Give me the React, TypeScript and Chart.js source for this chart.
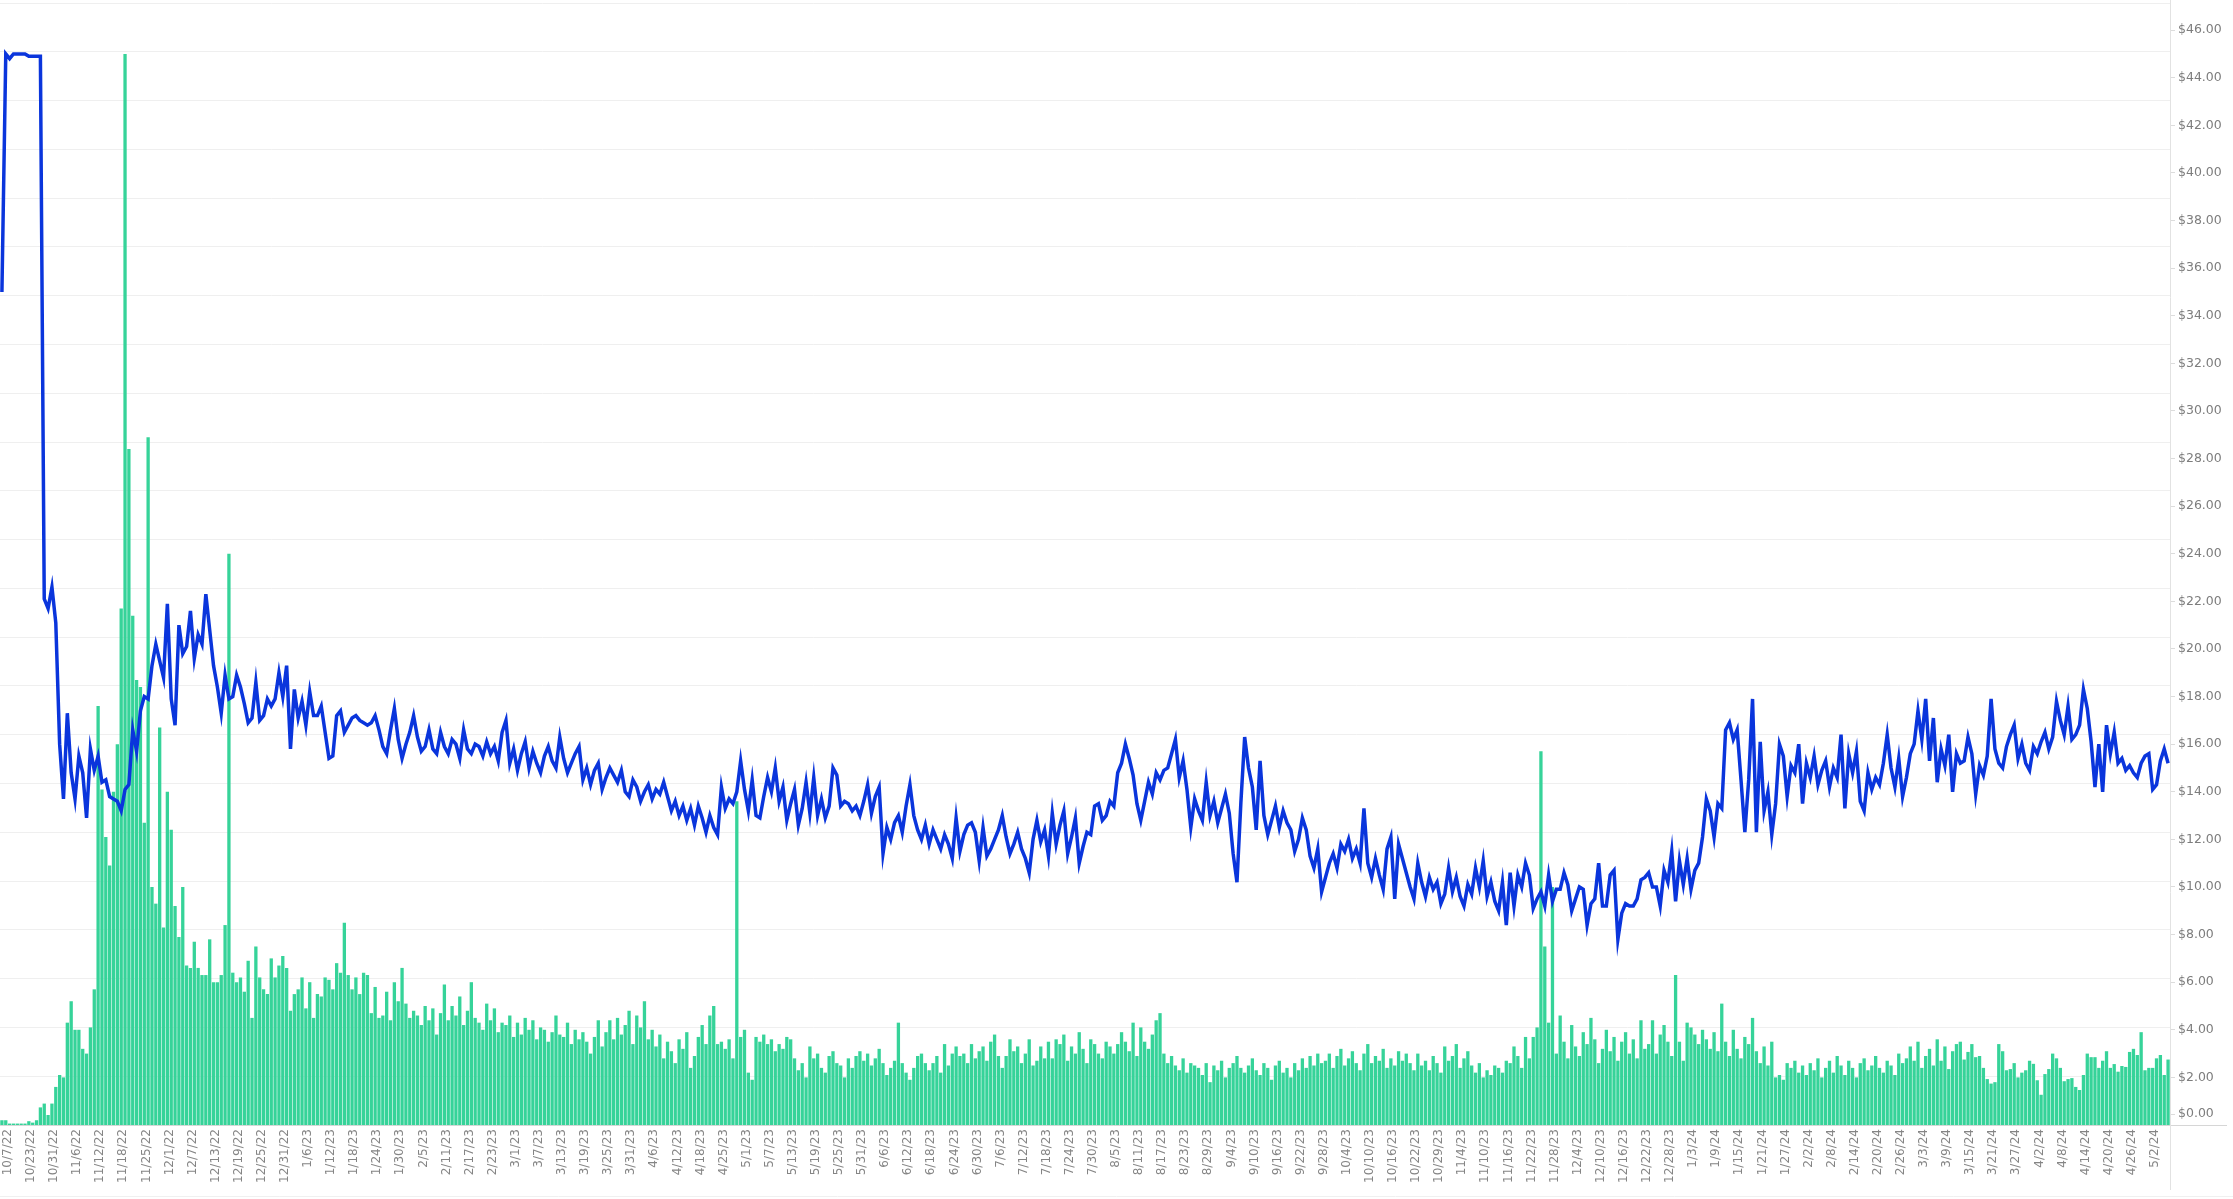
import React, { useEffect, useRef } from 'react';
import { Chart, registerables } from 'chart.js';

Chart.register(...registerables);

// ---- categories (daily trading dates; a few dates absent in the source) ----
const START_DATE = '2022-10-07';
const END_DATE = '2024-05-07';
const MISSING_DATES = [
  '2022-10-08', '2022-10-09', '2022-10-10', '2022-10-11', '2022-10-13',
  '2022-10-15', '2022-10-16', '2022-10-18', '2022-10-20', '2022-10-22',
  '2022-10-27', '2022-10-30', '2022-11-24', '2023-04-21', '2023-10-25',
];
const LABEL_EVERY = 6;

// ---- series: price (line) ----
const PRICE = [
  35.0, 45.0, 44.8, 45.0, 45.0, 45.0, 45.0, 44.9, 44.9, 44.9,
  44.9, 22.1, 21.7, 22.6, 21.1, 16.0, 13.7, 17.3, 14.8, 13.7,
  15.5, 14.8, 12.9, 15.8, 14.9, 15.5, 14.4, 14.5, 13.8, 13.7,
  13.6, 13.2, 14.1, 14.3, 16.6, 15.7, 17.4, 18.0, 17.9, 19.3,
  20.2, 19.5, 18.8, 21.9, 17.9, 16.8, 21.0, 19.8, 20.1, 21.6,
  19.6, 20.6, 20.2, 22.3, 20.8, 19.3, 18.4, 17.3, 18.9, 17.9,
  18.0, 18.9, 18.4, 17.7, 16.9, 17.1, 18.6, 17.0, 17.2, 17.9,
  17.6, 17.9, 19.0, 18.0, 19.3, 15.8, 18.3, 17.1, 17.8, 16.8,
  18.2, 17.2, 17.2, 17.6, 16.5, 15.4, 15.5, 17.2, 17.4, 16.5,
  16.8, 17.1, 17.2, 17.0, 16.9, 16.8, 16.9, 17.2, 16.6, 15.9,
  15.6, 16.6, 17.5, 16.2, 15.4, 16.0, 16.5, 17.2, 16.3, 15.7,
  15.9, 16.6, 15.8, 15.6, 16.5, 15.9, 15.6, 16.2, 16.0, 15.4,
  16.6, 15.8, 15.6, 16.0, 15.9, 15.5, 16.1, 15.6, 15.9, 15.3,
  16.5, 17.0, 15.2, 15.8, 14.9, 15.6, 16.1, 15.0, 15.7, 15.2,
  14.8, 15.5, 15.9, 15.3, 15.0, 16.3, 15.4, 14.8, 15.2, 15.6,
  15.9, 14.5, 15.0, 14.3, 14.9, 15.2, 14.1, 14.6, 15.0, 14.7,
  14.4, 14.9, 14.0, 13.8, 14.5, 14.2, 13.6, 14.0, 14.3, 13.7,
  14.1, 13.9, 14.4, 13.8, 13.2, 13.6, 13.0, 13.4, 12.8, 13.3,
  12.6, 13.4, 12.9, 12.3, 13.0, 12.5, 12.2, 14.2, 13.3, 13.7,
  13.5, 14.0, 15.3, 14.1, 13.2, 14.5, 13.0, 12.9, 13.8, 14.6,
  14.0, 15.0, 13.6, 14.2, 12.8, 13.5, 14.1, 12.6, 13.3, 14.4,
  13.1, 14.6, 13.0, 13.7, 12.9, 13.4, 15.0, 14.7, 13.4, 13.6,
  13.5, 13.2, 13.4, 13.0, 13.6, 14.3, 13.1, 13.8, 14.2, 11.4,
  12.5, 12.0, 12.7, 13.0, 12.3, 13.4, 14.3, 13.0, 12.4, 12.0,
  12.6, 11.8, 12.4, 12.0, 11.6, 12.2, 11.8, 11.2, 12.9, 11.5,
  12.2, 12.6, 12.7, 12.3, 11.1, 12.5, 11.3, 11.6, 12.0, 12.4,
  13.0, 12.1, 11.4, 11.8, 12.3, 11.6, 11.2, 10.6, 12.0, 12.8,
  11.9, 12.4, 11.3, 13.1, 11.8, 12.6, 13.2, 11.4, 12.1, 12.9,
  11.0, 11.7, 12.3, 12.2, 13.4, 13.5, 12.8, 13.0, 13.6, 13.4,
  14.8, 15.2, 16.0, 15.4, 14.7, 13.5, 12.8, 13.6, 14.4, 13.9,
  14.8, 14.5, 14.9, 15.0, 15.6, 16.2, 14.6, 15.3, 14.1, 12.5,
  13.7, 13.2, 12.8, 14.4, 13.0, 13.6, 12.7, 13.3, 13.9, 13.1,
  11.4, 10.2, 13.5, 16.3, 15.0, 14.2, 12.4, 15.3, 13.0, 12.2,
  12.8, 13.4, 12.5, 13.2, 12.7, 12.4, 11.5, 12.0, 12.9, 12.4,
  11.3, 10.8, 11.6, 9.8, 10.4, 11.0, 11.4, 10.8, 11.8, 11.5,
  12.0, 11.2, 11.6, 11.0, 13.3, 11.0, 10.4, 11.2, 10.5, 9.9,
  11.6, 12.1, 9.5, 11.8, 11.2, 10.6, 10.0, 9.5, 11.0, 10.2,
  9.6, 10.4, 9.9, 10.2, 9.3, 9.7, 10.8, 9.8, 10.4, 9.6,
  9.2, 10.1, 9.7, 10.8, 10.0, 11.1, 9.6, 10.2, 9.4, 9.0,
  10.2, 8.4, 10.6, 9.2, 10.5, 10.0, 11.0, 10.5, 9.1, 9.5,
  9.8, 9.2, 10.5, 9.4, 9.9, 9.9, 10.6, 10.1, 9.0, 9.5,
  10.0, 9.9, 8.4, 9.3, 9.5, 11.0, 9.2, 9.2, 10.5, 10.7,
  7.8, 8.9, 9.3, 9.2, 9.2, 9.5, 10.3, 10.4, 10.6, 10.0,
  10.0, 9.2, 10.7, 10.2, 11.5, 9.4, 11.1, 10.1, 11.2, 9.9,
  10.7, 11.0, 12.1, 13.7, 13.2, 12.1, 13.5, 13.3, 16.6, 16.9,
  16.2, 16.6, 14.5, 12.3, 14.5, 17.9, 12.3, 16.1, 13.2, 14.0,
  12.2, 13.5, 16.0, 15.5, 13.8, 15.1, 14.8, 16.0, 13.5, 15.2,
  14.6, 15.5, 14.3, 14.9, 15.3, 14.2, 15.0, 14.6, 16.4, 13.3,
  15.6, 14.8, 15.7, 13.6, 13.2, 14.8, 14.1, 14.6, 14.3, 15.2,
  16.4, 15.0, 14.2, 15.4, 13.8, 14.6, 15.6, 16.0, 17.4, 16.2,
  17.9, 15.3, 17.1, 14.4, 15.8, 15.1, 16.4, 14.0, 15.6, 15.2,
  15.3, 16.3, 15.6, 13.9, 15.1, 14.7, 15.5, 17.9, 15.8, 15.2,
  15.0, 15.9, 16.4, 16.8, 15.4, 16.0, 15.2, 14.9, 15.9, 15.6,
  16.1, 16.5, 15.8, 16.3, 17.8, 17.0, 16.4, 17.6, 16.2, 16.4,
  16.8, 18.3, 17.5, 16.1, 14.2, 16.0, 14.0, 16.8, 15.6, 16.5,
  15.2, 15.4, 14.9, 15.1, 14.8, 14.6, 15.2, 15.5, 15.6, 14.1,
  14.3, 15.3, 15.8, 15.2,
];

// ---- series: volume (bars) ----
const VOLUME = [
  0.2, 0.2, 0.06, 0.06, 0.06, 0.06, 0.06, 0.16, 0.1, 0.2,
  0.74, 0.9, 0.42, 0.9, 1.6, 2.1, 2.0, 4.3, 5.2, 4.0,
  4.0, 3.2, 3.0, 4.1, 5.7, 17.6, 14.1, 12.1, 10.9, 14.0,
  16.0, 21.7, 45.0, 28.4, 21.4, 18.7, 18.4, 12.7, 28.9, 10.0,
  9.3, 16.7, 8.3, 14.0, 12.4, 9.2, 7.9, 10.0, 6.7, 6.6,
  7.7, 6.6, 6.3, 6.3, 7.8, 6.0, 6.0, 6.3, 8.4, 24.0,
  6.4, 6.0, 6.2, 5.6, 6.9, 4.5, 7.5, 6.2, 5.7, 5.5,
  7.0, 6.2, 6.7, 7.1, 6.6, 4.8, 5.5, 5.7, 6.2, 4.9,
  6.0, 4.5, 5.5, 5.4, 6.2, 6.1, 5.7, 6.8, 6.4, 8.5,
  6.3, 5.7, 6.2, 5.5, 6.4, 6.3, 4.7, 5.8, 4.5, 4.6,
  5.6, 4.4, 6.0, 5.2, 6.6, 5.1, 4.5, 4.8, 4.6, 4.2,
  5.0, 4.4, 4.9, 3.8, 4.7, 5.9, 4.4, 5.0, 4.6, 5.4,
  4.2, 4.8, 6.0, 4.5, 4.3, 4.0, 5.1, 4.4, 4.9, 3.9,
  4.3, 4.2, 4.6, 3.7, 4.3, 3.8, 4.5, 4.0, 4.4, 3.6,
  4.1, 4.0, 3.5, 3.9, 4.6, 3.8, 3.7, 4.3, 3.4, 4.0,
  3.6, 3.9, 3.5, 3.0, 3.7, 4.4, 3.3, 3.9, 4.4, 3.6,
  4.5, 3.8, 4.2, 4.8, 3.4, 4.6, 4.1, 5.2, 3.6, 4.0,
  3.3, 3.8, 2.8, 3.5, 3.1, 2.6, 3.6, 3.2, 3.9, 2.4,
  2.9, 3.7, 4.2, 3.4, 4.6, 5.0, 3.4, 3.5, 3.2, 3.6,
  2.8, 13.6, 3.7, 4.0, 2.2, 1.9, 3.7, 3.5, 3.8, 3.4,
  3.6, 3.1, 3.4, 3.2, 3.7, 3.6, 2.8, 2.3, 2.6, 2.0,
  3.3, 2.8, 3.0, 2.4, 2.2, 2.9, 3.1, 2.6, 2.5, 2.0,
  2.8, 2.4, 2.9, 3.1, 2.7, 3.0, 2.5, 2.8, 3.2, 2.6,
  2.1, 2.4, 2.7, 4.3, 2.6, 2.2, 1.9, 2.4, 2.9, 3.0,
  2.6, 2.3, 2.6, 2.9, 2.2, 3.4, 2.5, 3.0, 3.3, 2.9,
  3.0, 2.6, 3.4, 2.8, 3.1, 3.3, 2.7, 3.5, 3.8, 2.9,
  2.4, 2.9, 3.6, 3.1, 3.3, 2.6, 3.0, 3.6, 2.5, 2.7,
  3.3, 2.8, 3.5, 2.8, 3.6, 3.4, 3.8, 2.7, 3.3, 3.0,
  3.9, 3.2, 2.6, 3.6, 3.4, 3.0, 2.8, 3.5, 3.3, 3.0,
  3.4, 3.9, 3.5, 3.1, 4.3, 2.9, 4.1, 3.5, 3.2, 3.8,
  4.4, 4.7, 3.0, 2.6, 2.9, 2.5, 2.3, 2.8, 2.2, 2.6,
  2.5, 2.4, 2.1, 2.6, 1.8, 2.5, 2.3, 2.7, 2.0, 2.4,
  2.6, 2.9, 2.4, 2.2, 2.5, 2.8, 2.3, 2.1, 2.6, 2.4,
  1.9, 2.5, 2.7, 2.2, 2.4, 2.0, 2.6, 2.3, 2.8, 2.4,
  2.9, 2.5, 3.0, 2.6, 2.7, 3.0, 2.4, 2.9, 3.2, 2.5,
  2.8, 3.1, 2.6, 2.3, 3.0, 3.4, 2.6, 2.9, 2.7, 3.2,
  2.4, 2.8, 2.5, 3.1, 2.7, 3.0, 2.6, 2.3, 3.0, 2.5,
  2.7, 2.3, 2.9, 2.6, 2.2, 3.3, 2.7, 2.9, 3.4, 2.4,
  2.8, 3.1, 2.5, 2.2, 2.6, 2.0, 2.3, 2.1, 2.5, 2.4,
  2.2, 2.7, 2.6, 3.3, 2.9, 2.4, 3.7, 2.8, 3.7, 4.1,
  15.7, 7.5, 4.3, 10.0, 3.0, 4.6, 3.5, 2.8, 4.2, 3.3,
  2.9, 3.9, 3.4, 4.5, 3.6, 2.6, 3.2, 4.0, 3.1, 3.7,
  2.7, 3.5, 3.9, 3.0, 3.6, 2.8, 4.4, 3.2, 3.4, 4.4,
  3.0, 3.8, 4.2, 3.5, 2.9, 6.3, 3.5, 2.7, 4.3, 4.1,
  3.8, 3.4, 4.0, 3.6, 3.2, 3.9, 3.1, 5.1, 3.5, 2.9,
  4.0, 3.2, 2.8, 3.7, 3.4, 4.5, 3.1, 2.6, 3.3, 2.5,
  3.5, 2.0, 2.1, 1.9, 2.6, 2.4, 2.7, 2.2, 2.5, 2.1,
  2.6, 2.3, 2.8, 2.0, 2.4, 2.7, 2.2, 2.9, 2.5, 2.1,
  2.7, 2.4, 2.0, 2.6, 2.8, 2.3, 2.5, 2.9, 2.4, 2.2,
  2.7, 2.5, 2.1, 3.0, 2.6, 2.8, 3.3, 2.7, 3.5, 2.4,
  2.9, 3.2, 2.5, 3.6, 2.7, 3.3, 2.35, 3.1, 3.4, 3.5,
  2.75, 3.07, 3.4, 2.85, 2.9, 2.4, 1.93, 1.74, 1.8, 3.4,
  3.1, 2.3, 2.35, 2.6, 2.0, 2.2, 2.3, 2.7, 2.57, 1.88,
  1.27, 2.14, 2.35, 3.0, 2.8, 2.4, 1.84, 1.93, 1.97, 1.6,
  1.47, 2.1, 3.0, 2.85, 2.85, 2.4, 2.7, 3.1, 2.4, 2.56,
  2.24, 2.48, 2.44, 3.07, 3.2, 2.94, 3.9, 2.3, 2.4, 2.4,
  2.8, 2.94, 2.1, 2.75,
];

// ---- axis tick labels ----
const Y_TICKS = [0, 2, 4, 6, 8, 10, 12, 14, 16, 18, 20, 22, 24, 26, 28, 30, 32, 34, 36, 38, 40, 42, 44, 46];
const Y_MAX = 47.14;
const GRID_LINES = 23;

function buildDates(): string[] {
  const out: string[] = [];
  const missing = new Set(MISSING_DATES);
  const [sy, sm, sd] = START_DATE.split('-').map(Number);
  const [ey, em, ed] = END_DATE.split('-').map(Number);
  let t = Date.UTC(sy, sm - 1, sd);
  const end = Date.UTC(ey, em - 1, ed);
  while (t <= end) {
    const d = new Date(t);
    const iso = d.toISOString().slice(0, 10);
    if (!missing.has(iso)) {
      out.push(`${d.getUTCMonth() + 1}/${d.getUTCDate()}/${String(d.getUTCFullYear()).slice(2)}`);
    }
    t += 86400000;
  }
  return out;
}

const DATES = buildDates();

const FONT = 'DejaVu Sans';

const framePlugin = {
  id: 'frameLines',
  afterDraw(chart: any) {
    const { ctx, chartArea, width, height } = chart;
    ctx.save();
    ctx.lineWidth = 1;
    ctx.strokeStyle = '#d6d6d6';
    ctx.beginPath();
    ctx.moveTo(0, Math.round(chartArea.bottom) + 0.5);
    ctx.lineTo(chartArea.right + 57, Math.round(chartArea.bottom) + 0.5);
    ctx.stroke();
    ctx.strokeStyle = '#e2e2e2';
    ctx.beginPath();
    ctx.moveTo(Math.round(chartArea.right) + 0.5, 0);
    ctx.lineTo(Math.round(chartArea.right) + 0.5, height - 9);
    ctx.stroke();
    ctx.strokeStyle = '#f0f0f0';
    ctx.beginPath();
    ctx.moveTo(0, height - 2.5);
    ctx.lineTo(width, height - 2.5);
    ctx.stroke();
    ctx.restore();
  },
};

export default function App() {
  const ref = useRef<HTMLCanvasElement | null>(null);

  useEffect(() => {
    document.body.style.margin = '0';
    const canvas = ref.current;
    if (!canvas) return;
    const chart = new Chart(canvas, {
      type: 'bar',
      data: {
        labels: DATES,
        datasets: [
          {
            type: 'line',
            data: PRICE,
            yAxisID: 'y',
            borderColor: '#0a35dc',
            borderWidth: 3.5,
            pointRadius: 0,
            tension: 0,
            order: 0,
          } as any,
          {
            type: 'bar',
            data: VOLUME,
            yAxisID: 'y',
            backgroundColor: '#36d399',
            borderWidth: 0,
            categoryPercentage: 0.86,
            barPercentage: 1,
            order: 1,
          } as any,
        ],
      },
      options: {
        responsive: false,
        animation: false,
        devicePixelRatio: 1,
        layout: { padding: { top: 3, left: 0, right: 0, bottom: 0 } },
        plugins: { legend: { display: false }, tooltip: { enabled: false } },
        scales: {
          x: {
            type: 'category',
            grid: { display: false, drawTicks: false },
            border: { display: false },
            ticks: {
              autoSkip: false,
              maxRotation: 90,
              minRotation: 90,
              padding: 4,
              labelOffset: 6,
              color: '#858585',
              font: { family: FONT, size: 12 },
              callback: (_v: any, i: number) => (i % LABEL_EVERY === 0 ? DATES[i] : ''),
            },
            afterFit: (s: any) => {
              s.height = 74;
              s.paddingLeft = 0;
              s.paddingRight = 0;
            },
          },
          yGrid: {
            type: 'linear',
            position: 'left',
            min: 0,
            max: GRID_LINES,
            ticks: { display: false, stepSize: 1 },
            grid: { color: '#efefef', lineWidth: 1, drawTicks: false },
            border: { display: false },
            afterFit: (s: any) => {
              s.width = 0;
              s.paddingTop = 0;
              s.paddingBottom = 0;
            },
          },
          y: {
            type: 'linear',
            position: 'right',
            min: 0,
            max: Y_MAX,
            grid: { drawOnChartArea: false, drawTicks: true, tickLength: 5, color: '#dcdcdc' },
            border: { display: false },
            ticks: {
              padding: 3,
              color: '#7d7d7d',
              font: { family: FONT, size: 12.5 },
              callback: (_v: any, i: number) => '$' + Y_TICKS[i].toFixed(2),
            },
            afterBuildTicks: (s: any) => {
              s.ticks = Y_TICKS.map((v) => ({ value: v === 0 ? 0.46 : v }));
            },
            afterFit: (s: any) => {
              s.width = 63;
              s.paddingTop = 0;
              s.paddingBottom = 0;
            },
          },
        },
      } as any,
      plugins: [framePlugin],
    });
    return () => chart.destroy();
  }, []);

  return (
    <div style={{ width: 2233, height: 1199, background: '#ffffff' }}>
      <canvas ref={ref} width={2233} height={1199} />
    </div>
  );
}
